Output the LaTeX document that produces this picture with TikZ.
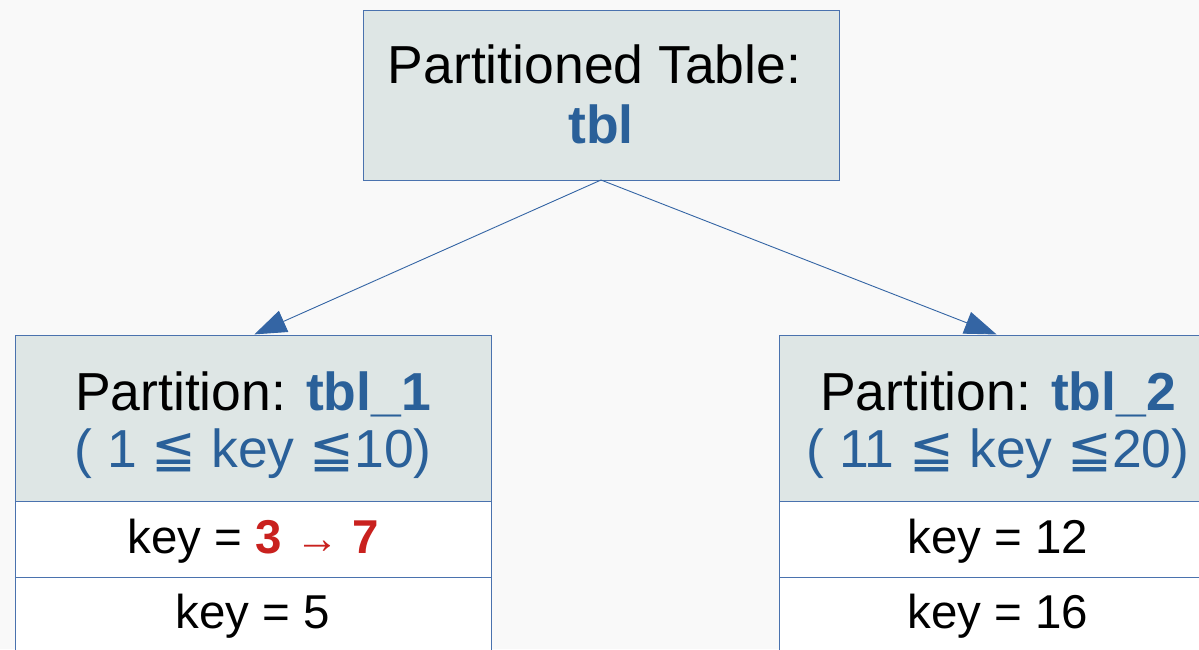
\documentclass[tikz,border=0pt]{standalone}
\usepackage{fontspec}
\setmainfont{Liberation Sans}
\newfontfamily\symfont{DejaVu Sans}
\usetikzlibrary{arrows.meta}
\definecolor{bg}{HTML}{F9F9F9}
\definecolor{hdrfill}{HTML}{DEE6E5}
\definecolor{edge}{HTML}{4A72AE}
\definecolor{txtblue}{HTML}{2A6099}
\definecolor{txtred}{HTML}{C9211E}
\definecolor{arrowblue}{HTML}{3465A4}
\newcommand{\leqqsym}{{\symfont ≦}}

\begin{document}
\begin{tikzpicture}[x=1pt,y=-1pt,
  hdrbox/.style={draw=edge, line width=0.9pt, fill=hdrfill, inner sep=0pt, outer sep=0pt, rectangle},
  rowbox/.style={draw=edge, line width=0.9pt, fill=white, inner sep=0pt, outer sep=0pt, rectangle},
  big/.style={anchor=base, inner sep=0pt, font=\fontsize{53.5}{60}\selectfont},
  rowtxt/.style={anchor=base, inner sep=0pt, font=\fontsize{47.5}{56}\selectfont},
  link/.style={draw=arrowblue, line width=0.9pt, -{Triangle[length=32pt,width=23pt]}, shorten >=1.5pt}
]
\fill[bg] (0,0) rectangle (1199,649);
\useasboundingbox (0,0) rectangle (1199,649);
\clip (0,0) rectangle (1199,649);

% parent table
\node[hdrbox, minimum width=476pt, minimum height=170pt] (top) at (601,95) {};
\node[big] (toptitle) at (594.5,83) {Partitioned Table:};
\node[big, text=txtblue, font=\fontsize{53.5}{60}\selectfont\bfseries] (topname) at (601,143) {tbl};

% partition tbl_1
\node[hdrbox, minimum width=476pt, minimum height=166pt] (p1) at (253,418) {};
\node[rowbox, minimum width=476pt, minimum height=76pt] (p1r1) at (253,539) {};
\node[rowbox, minimum width=476pt, minimum height=80pt] (p1r2) at (253,617) {};
\node[big] (p1title) at (253,410) {Partition: \textcolor{txtblue}{\bfseries tbl\_1}};
\node[big, text=txtblue] (p1range) at (253,467) {( 1 \leqqsym{} key \leqqsym10)};
\node[rowtxt] (p1k1) at (253,553) {key = \textcolor{txtred}{\bfseries 3 {\fontsize{44}{44}\selectfont\mdseries →} 7}};
\node[rowtxt] (p1k2) at (253,628) {key = 5};

% partition tbl_2
\node[hdrbox, minimum width=438pt, minimum height=166pt] (p2) at (998,418) {};
\node[rowbox, minimum width=438pt, minimum height=76pt] (p2r1) at (998,539) {};
\node[rowbox, minimum width=438pt, minimum height=80pt] (p2r2) at (998,617) {};
\node[big] (p2title) at (998,410) {Partition: \textcolor{txtblue}{\bfseries tbl\_2}};
\node[big, text=txtblue] (p2range) at (998,467) {( 11 \leqqsym{} key \leqqsym20)};
\node[rowtxt] (p2k1) at (998,553) {key = 12};
\node[rowtxt] (p2k2) at (998,628) {key = 16};

% links from parent to partitions
\draw[link] (top.south) -- (p1.north);
\draw[link] (top.south) -- (p2.north);
\end{tikzpicture}
\end{document}
